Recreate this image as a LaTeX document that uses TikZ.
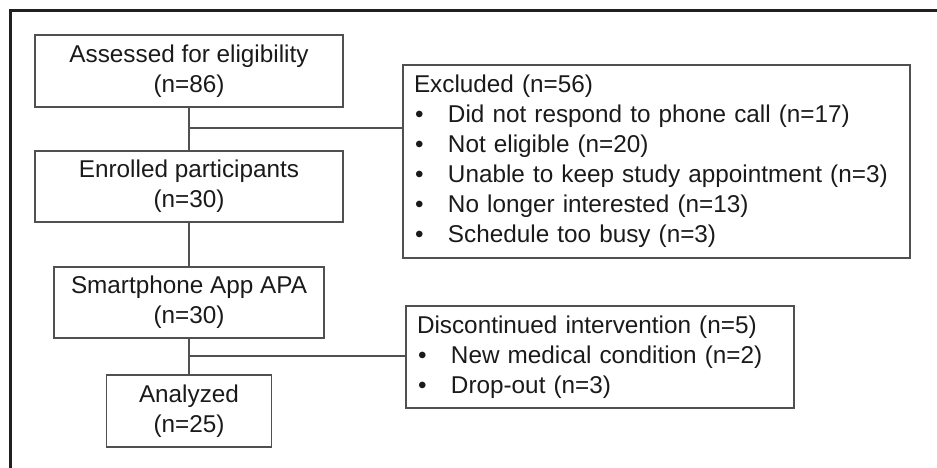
\documentclass[tikz,border=0pt]{standalone}
\usepackage{fontspec}
\setmainfont{Liberation Sans}
\definecolor{boxgray}{HTML}{505050}
\definecolor{txt}{HTML}{1A1A1A}
\definecolor{framec}{HTML}{202020}
\newcommand\bulitem{\makebox[34pt][l]{\hspace{1pt}•}}
\begin{document}
\begin{tikzpicture}[x=1pt,y=-1pt,
  box/.style={draw=boxgray, line width=1.5pt, inner sep=0pt, text=txt,
    font=\fontsize{24.3}{30}\selectfont, align=center},
  listbox/.style={draw=boxgray, line width=1.5pt, inner xsep=11pt, inner ysep=0pt, text=txt,
    font=\fontsize{24.3}{30}\selectfont, align=left},
  conn/.style={draw=boxgray, line width=1.5pt}]
\useasboundingbox (0,0) rectangle (937,468);
\begin{scope}
\clip (0,0) rectangle (937,468);
\draw[line width=3pt, framec] (10.5,10.5) rectangle (1000,600);
\end{scope}
\node[box, minimum width=308pt, minimum height=72pt] (assess) at (189,71) {Assessed for eligibility\\(n=86)};
\node[box, minimum width=308pt, minimum height=71pt] (enrol) at (189,186.5) {Enrolled participants\\(n=30)};
\node[box, minimum width=270pt, minimum height=71pt] (app) at (189,302.5) {Smartphone App APA\\(n=30)};
\node[box, minimum width=165pt, minimum height=72pt] (anal) at (189,411) {Analyzed\\(n=25)};
\node[listbox, text width=485pt, minimum height=193pt] (excl) at (656.5,161.5) {Excluded (n=56)\\
\bulitem Did not respond to phone call (n=17)\\
\bulitem Not eligible (n=20)\\
\bulitem Unable to keep study appointment (n=3)\\
\bulitem No longer interested (n=13)\\
\bulitem Schedule too busy (n=3)};
\node[listbox, text width=366pt, minimum height=102pt] (disc) at (600,357) {Discontinued intervention (n=5)\\
\bulitem New medical condition (n=2)\\
\bulitem Drop-out (n=3)};
\coordinate (j1) at (189,128);
\coordinate (j2) at (189,356);
\draw[conn] (assess.south) -- (enrol.north);
\draw[conn] (j1) -- (j1 -| excl.west);
\draw[conn] (enrol.south) -- (app.north);
\draw[conn] (app.south) -- (anal.north);
\draw[conn] (j2) -- (j2 -| disc.west);
\end{tikzpicture}
\end{document}
